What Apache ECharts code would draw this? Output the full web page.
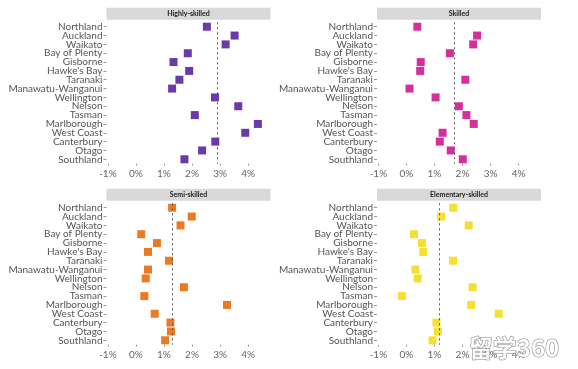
<!DOCTYPE html>
<html><head><meta charset="utf-8">
<script src="https://cdn.jsdelivr.net/npm/echarts@6/dist/echarts.min.js"></script>
<style>html,body{margin:0;padding:0;background:#fff}#c{width:578px;height:369px}</style>
</head><body><div id="c"></div>
<script>
var regions = ["Northland","Auckland","Waikato","Bay of Plenty","Gisborne","Hawke's Bay","Taranaki","Manawatu-Wanganui","Wellington","Nelson","Tasman","Marlborough","West Coast","Canterbury","Otago","Southland"];
var panelTitles = ["Highly-skilled","Skilled","Semi-skilled","Elementary-skilled"];
var highlySkilled = [2.53,3.52,3.20,1.85,1.34,1.90,1.55,1.29,2.82,3.65,2.10,4.35,3.90,2.83,2.36,1.73];
var skilled = [0.39,2.52,2.38,1.55,0.51,0.49,2.10,0.11,1.04,1.87,2.14,2.40,1.29,1.19,1.58,2.01];
var semiSkilled = [1.29,1.99,1.59,0.19,0.75,0.43,1.18,0.43,0.35,1.71,0.30,3.25,0.67,1.23,1.25,1.04];
var elementarySkilled = [1.67,1.24,2.22,0.27,0.55,0.60,1.66,0.32,0.40,2.36,-0.16,2.31,3.29,1.07,1.12,0.93];
var nationalAverage = [2.90,1.70,1.28,1.18];
var xTicks = [-1,0,1,2,3,4];

var seriesData = [highlySkilled, skilled, semiSkilled, elementarySkilled];
var colors = ['#6a3aa8','#d4309c','#ea7a24','#f3e032'];
var grids = [
  {left:106.5, top:22.3, width:164, height:141.4},
  {left:377, top:22.3, width:164, height:141.4},
  {left:106.5, top:203.3, width:164, height:141.4},
  {left:377, top:203.3, width:164, height:141.4}
];
var font = 'Lato, "Open Sans", sans-serif';
var xAxes = [], yAxes = [], series = [], graphics = [];
for (var i = 0; i < 4; i++) {
  xAxes.push({gridIndex:i, type:'value', min:-1.05, max:4.8, interval:1,
    axisLine:{show:false, onZero:false}, splitLine:{show:false},
    axisTick:{show:true, length:2, inside:false, lineStyle:{color:'#999'}, customValues:xTicks},
    axisLabel:{customValues:xTicks, formatter:function(v){return Math.round(v)+'%';}, color:'#666', fontSize:10, fontFamily:font, margin:5}
  });
  yAxes.push({gridIndex:i, type:'category', data:regions, inverse:true,
    axisLine:{show:false, onZero:false}, splitLine:{show:false},
    axisTick:{show:true, length:3, alignWithLabel:true, lineStyle:{color:'#999'}},
    axisLabel:{color:'#555', fontSize:10, fontFamily:font, margin:4, interval:0}
  });
  series.push({type:'scatter', xAxisIndex:i, yAxisIndex:i, symbol:'rect', symbolSize:8,
    itemStyle:{color:colors[i], opacity:1},
    data: seriesData[i].map(function(v,j){return [v, regions[j]];}),
    markLine:{silent:true, symbol:'none', label:{show:false},
      lineStyle:{type:[2,3], color:'#555', width:1},
      data:[{xAxis:nationalAverage[i]}]}
  });
  var g = grids[i];
  graphics.push({type:'rect', shape:{x:g.left, y:g.top-14.5, width:g.width, height:12}, style:{fill:'#d9d9d9'}, z:0});
  graphics.push({type:'text', x:g.left+g.width/2, y:g.top-8.5, style:{text:panelTitles[i], fill:'#222', font:'bold 7px '+font, textAlign:'center', textVerticalAlign:'middle'}, z:1});
}
graphics.push({type:'text', x:514, y:348, style:{text:'留学360', fill:'rgba(255,255,255,0.85)', stroke:'#888', lineWidth:1, font:'bold 24px "Noto Sans CJK SC", sans-serif', textAlign:'center', textVerticalAlign:'middle'}, z:10});

var chart = echarts.init(document.getElementById('c'), null, {renderer:'canvas'});
chart.setOption({
  animation:false,
  grid:grids,
  xAxis:xAxes,
  yAxis:yAxes,
  series:series,
  graphic:graphics
});
</script></body></html>
